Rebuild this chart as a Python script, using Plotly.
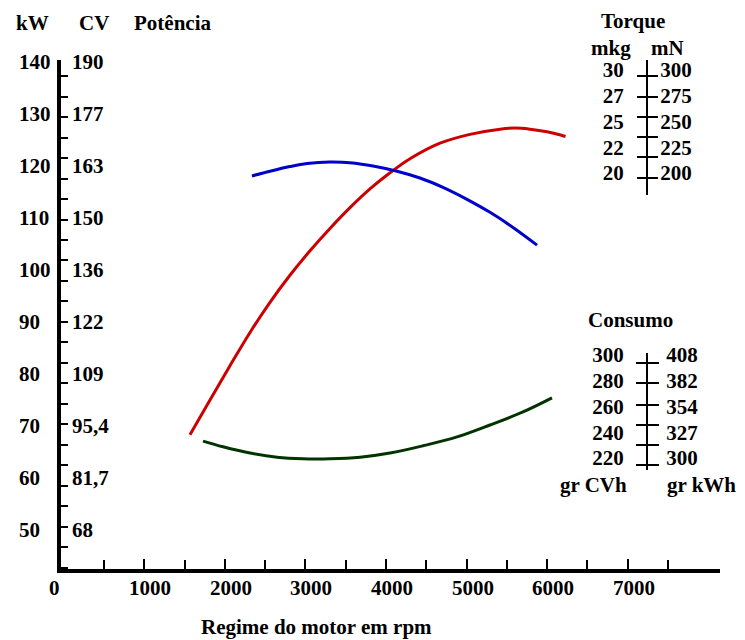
import numpy as np
import plotly.graph_objects as go

# ---------------- data ----------------
# Potência curve (kW)
power_rpm = [1565, 1814, 2062, 2311, 2559, 2807, 3056, 3304, 3553, 3801, 4050,
             4298, 4671, 5043, 5416, 5600, 5789, 6000, 6230]
power_kw = [68.3, 75.0, 81.6, 88.0, 93.8, 99.0, 103.7, 108.0, 112.0, 115.6, 118.7,
            121.4, 124.4, 126.1, 127.1, 127.3, 127.1, 126.6, 125.7]

# Torque curve (drawn in the kW frame of the sketch)
torque_rpm = [2335, 2559, 2807, 3019, 3304, 3590, 3839, 4137, 4422, 4708, 5006,
              5292, 5578, 5876]
torque_level = [118.1, 119.0, 119.9, 120.5, 120.8, 120.6, 120.0, 119.0, 117.7,
                115.9, 113.6, 111.1, 108.2, 104.8]

# Consumo curve (drawn in the kW frame of the sketch)
cons_rpm = [1727, 1975, 2311, 2646, 2969, 3304, 3677, 4050, 4460, 4882, 5292,
            5702, 6062]
cons_level = [67.1, 66.0, 64.8, 64.0, 63.7, 63.7, 64.0, 64.8, 66.2, 67.9, 70.2,
              72.7, 75.4]

# Axis tick labels
rpm_ticks = [0, 1000, 2000, 3000, 4000, 5000, 6000, 7000]
rpm_labels = ["0", "1000", "2000", "3000", "4000", "5000", "6000", "7000"]
kw_ticks = [140, 130, 120, 110, 100, 90, 80, 70, 60, 50]
kw_labels = ["140", "130", "120", "110", "100", "90", "80", "70", "60", "50"]
cv_labels = ["190", "177", "163", "150", "136", "122", "109", "95,4", "81,7", "68"]

torque_ticks = [300, 275, 250, 225, 200]
torque_mkg_labels = ["30", "27", "25", "22", "20"]
torque_mn_labels = ["300", "275", "250", "225", "200"]

cons_ticks = [300, 280, 260, 240, 220]
cons_cvh_labels = ["300", "280", "260", "240", "220"]
cons_kwh_labels = ["408", "382", "354", "327", "300"]

# ---------------- styling / layout helpers ----------------
FONT = dict(family="Liberation Serif", size=21, color="black", weight="bold")
OFF = 8                      # page body margin of the browser
W, H = 745 - OFF, 640 - OFF
PL, PR, PT, PB = 61, 720, 60, 569   # plot area in window pixels
PW, PH = PR - PL, PB - PT


def fx(px):
    return (px - PL) / PW


def fy(py):
    return (PB - py) / PH


torque_marks = [294.2, 273.8, 254.4, 235.0, 215.5, 195.1]
cons_marks = [293.8, 278.3, 261.2, 245.7, 230.1, 214.6]

fig = go.Figure()

fig.add_trace(go.Scatter(x=power_rpm, y=power_kw, mode="lines",
                         line=dict(color="#cc0000", width=3, shape="spline"),
                         hoverinfo="skip", showlegend=False))
fig.add_trace(go.Scatter(x=torque_rpm, y=torque_level, mode="lines",
                         line=dict(color="#0000cc", width=3, shape="spline"),
                         hoverinfo="skip", showlegend=False))
fig.add_trace(go.Scatter(x=cons_rpm, y=cons_level, mode="lines",
                         line=dict(color="#003300", width=3, shape="spline"),
                         hoverinfo="skip", showlegend=False))

for ax in ["y2", "y3", "y4", "y5", "y6"]:
    fig.add_trace(go.Scatter(x=[None], y=[None], yaxis=ax, mode="lines",
                             hoverinfo="skip", showlegend=False))

common = dict(showgrid=False, zeroline=False, fixedrange=True, tickfont=FONT,
              automargin=False)

fig.update_layout(
    template="none",
    width=W, height=H,
    margin=dict(l=PL - OFF, r=745 - PR, t=PT - OFF, b=640 - PB, autoexpand=False),
    paper_bgcolor="white", plot_bgcolor="rgba(0,0,0,0)",
    font=FONT,
    xaxis=dict(range=[-37, 8149], domain=[0, 1], showline=True, linewidth=3.5,
               linecolor="black", tickmode="array", tickvals=rpm_ticks[1:],
               ticks="inside", ticklen=10, tickwidth=2, tickcolor="black",
               showticklabels=False,
               minor=dict(tickmode="linear", tick0=500, dtick=1000,
                          ticks="inside", ticklen=9, tickwidth=2,
                          tickcolor="black"),
               **common),
    yaxis=dict(range=[42.5, 140.4], domain=[0, 1], showline=True, linewidth=3.5,
               linecolor="black", tickmode="linear", tick0=137.3, dtick=3.94,
               ticks="inside", ticklen=7, tickwidth=2, tickcolor="black",
               showticklabels=False, **common),
    yaxis2=dict(range=[42.5, 140.4], overlaying="y", anchor="free", position=0,
                side="right", showline=False, tickmode="array", tickvals=kw_ticks,
                ticktext=cv_labels, ticks="", ticklabelstandoff=10, **common),
    yaxis3=dict(range=[178.6, 309.7], domain=[fy(195), 1.0], anchor="free",
                position=fx(647), side="left", showline=True, linewidth=2,
                linecolor="black", tickmode="array", tickvals=torque_ticks,
                ticktext=torque_mkg_labels, ticks="", ticklabelstandoff=18,
                minor=dict(tickmode="array", tickvals=torque_marks,
                           ticks="outside", ticklen=9, tickwidth=2,
                           tickcolor="black"),
                **common),
    yaxis4=dict(range=[178.6, 309.7], overlaying="y3", anchor="free",
                position=fx(647), side="right", showline=True, linewidth=2,
                linecolor="black", tickmode="array", tickvals=torque_ticks,
                ticktext=torque_mn_labels, ticks="", ticklabelstandoff=8,
                minor=dict(tickmode="array", tickvals=torque_marks,
                           ticks="outside", ticklen=10, tickwidth=2,
                           tickcolor="black"),
                **common),
    yaxis5=dict(range=[210.7, 301.55], domain=[fy(470), fy(353)], anchor="free",
                position=fx(647), side="left", showline=True, linewidth=2,
                linecolor="black", tickmode="array", tickvals=cons_ticks,
                ticktext=cons_cvh_labels, ticks="", ticklabelstandoff=18,
                minor=dict(tickmode="array", tickvals=cons_marks,
                           ticks="outside", ticklen=10, tickwidth=2,
                           tickcolor="black"),
                **common),
    yaxis6=dict(range=[210.7, 301.55], overlaying="y5", anchor="free",
                position=fx(647), side="right", showline=True, linewidth=2,
                linecolor="black", tickmode="array", tickvals=cons_ticks,
                ticktext=cons_kwh_labels, ticks="", ticklabelstandoff=14,
                minor=dict(tickmode="array", tickvals=cons_marks,
                           ticks="outside", ticklen=11, tickwidth=2,
                           tickcolor="black"),
                **common),
)

annotations = []
# kW labels, left aligned in their column
for v, t in zip(kw_ticks, kw_labels):
    annotations.append(dict(x=fx(17), y=v, xref="paper", yref="y", text=t,
                            xanchor="left", yanchor="middle", showarrow=False,
                            font=FONT))

# rpm labels placed along the x scale (hand-lettered offsets of the sketch)
for i, (v, t) in enumerate(zip(rpm_ticks, rpm_labels)):
    annotations.append(dict(x=v, y=fy(588), xref="x", yref="paper", text=t,
                            xanchor="center", yanchor="middle", showarrow=False,
                            xshift=(-9 if i == 0 else 6), font=FONT))

texts = [
    ("kW", 32, 23), ("CV", 94, 23), ("Potência", 172, 23),
    ("Torque", 633, 21), ("mkg", 611, 48), ("mN", 667, 48),
    ("Consumo", 630, 320), ("gr CVh", 593, 485), ("gr kWh", 701, 485),
    ("Regime do motor em rpm", 316, 627),
]
for t, px_, py_ in texts:
    annotations.append(dict(x=fx(px_), y=fy(py_), xref="paper", yref="paper",
                            text=t, xanchor="center", yanchor="middle",
                            showarrow=False, font=FONT))

fig.update_layout(annotations=annotations)

fig.write_html("out.html")
